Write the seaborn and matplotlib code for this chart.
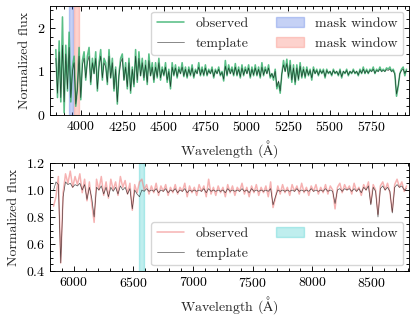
import numpy as np
import matplotlib
matplotlib.use("Agg")
import matplotlib.pyplot as plt
import seaborn as sns

# ---------------- data ----------------
# Blue arm: sampled every 10 A starting at 3850 A
blue_start, blue_step = 3850, 10
blue_observed = [
    1.50, 0.40, 1.70, 0.30, 2.25, 0.05, 1.60, 0.55, 1.90, 0.30,
    1.10, 1.35, 0.20, 0.65, 1.55, 0.35, 1.25, 1.45, 0.80, 1.35,
    1.55, 0.70, 1.30, 0.95, 1.45, 0.55, 1.20, 1.50, 0.80, 1.30,
    1.20, 0.70, 1.50, 0.85, 1.30, 0.55, 1.10, 0.25, 0.95, 1.30,
    1.40, 0.80, 1.20, 0.60, 1.30, 0.50, 1.10, 0.65, 1.50, 0.75,
    1.45, 0.90, 1.30, 0.80, 1.25, 0.70, 1.40, 0.90, 1.20, 0.75,
    1.20, 0.85, 1.30, 0.80, 1.10, 0.90, 1.20, 0.75, 1.05, 0.60,
    1.20, 0.90, 1.15, 0.85, 1.10, 0.95, 1.20, 0.88, 1.10, 0.85,
    1.10, 0.90, 1.15, 0.85, 1.05, 0.95, 1.20, 0.90, 1.10, 0.90,
    1.15, 0.90, 1.05, 0.95, 1.10, 0.85, 1.05, 0.95, 1.10, 0.90,
    1.00, 0.78, 1.25, 0.90, 1.15, 0.95, 1.10, 0.90, 1.18, 0.90,
    1.10, 0.85, 1.15, 0.90, 1.10, 0.95, 1.15, 0.85, 1.10, 0.90,
    1.15, 0.90, 1.10, 0.85, 1.20, 0.90, 1.10, 0.95, 1.15, 0.85,
    0.95, 0.80, 1.05, 0.60, 0.75, 0.50, 0.95, 1.25, 1.00, 1.28,
    0.85, 1.25, 0.75, 1.15, 0.70, 1.15, 0.80, 1.20, 0.85, 1.10,
    0.85, 1.10, 0.90, 1.05, 0.80, 1.10, 0.95, 1.05, 0.90, 1.05,
    0.95, 1.05, 0.85, 1.05, 0.95, 1.00, 0.90, 1.05, 0.95, 1.00,
    0.90, 1.05, 0.85, 1.00, 0.95, 1.05, 0.90, 1.00, 0.95, 1.05,
    0.95, 1.00, 0.90, 1.05, 0.95, 1.10, 0.95, 1.05, 0.95, 1.05,
    1.00, 1.10, 0.95, 1.05, 1.00, 1.10, 1.00, 1.05, 1.00, 1.08,
    1.05, 1.10, 1.00, 1.05, 0.95, 0.43, 0.65, 0.95, 1.05, 1.10,
    0.90, 1.05,
]
blue_template = [
    1.30, 0.50, 1.45, 0.40, 1.60, 0.30, 1.40, 0.60, 1.55, 0.40,
    1.00, 1.20, 0.25, 0.60, 1.35, 0.40, 1.15, 1.30, 0.85, 1.20,
    1.35, 0.75, 1.20, 0.95, 1.30, 0.60, 1.10, 1.35, 0.85, 1.20,
    1.10, 0.75, 1.35, 0.85, 1.20, 0.60, 1.05, 0.30, 0.90, 1.20,
    1.30, 0.80, 1.10, 0.65, 1.20, 0.55, 1.05, 0.70, 1.35, 0.80,
    1.30, 0.90, 1.20, 0.85, 1.15, 0.75, 1.25, 0.90, 1.10, 0.80,
    1.10, 0.88, 1.20, 0.85, 1.05, 0.92, 1.10, 0.80, 1.00, 0.65,
    1.10, 0.92, 1.08, 0.88, 1.05, 0.95, 1.10, 0.90, 1.05, 0.88,
    1.05, 0.92, 1.08, 0.88, 1.02, 0.95, 1.10, 0.92, 1.05, 0.92,
    1.08, 0.92, 1.02, 0.95, 1.05, 0.88, 1.02, 0.95, 1.05, 0.92,
    0.98, 0.82, 1.12, 0.92, 1.08, 0.95, 1.05, 0.92, 1.10, 0.92,
    1.05, 0.88, 1.08, 0.92, 1.05, 0.95, 1.08, 0.88, 1.05, 0.92,
    1.08, 0.92, 1.05, 0.88, 1.10, 0.92, 1.05, 0.95, 1.08, 0.88,
    0.95, 0.85, 1.00, 0.65, 0.78, 0.55, 0.95, 1.15, 1.00, 1.18,
    0.88, 1.15, 0.80, 1.08, 0.75, 1.08, 0.82, 1.12, 0.88, 1.05,
    0.88, 1.05, 0.92, 1.02, 0.85, 1.05, 0.95, 1.02, 0.92, 1.02,
    0.96, 1.02, 0.88, 1.02, 0.96, 1.00, 0.92, 1.02, 0.96, 1.00,
    0.92, 1.02, 0.88, 1.00, 0.96, 1.02, 0.92, 1.00, 0.96, 1.02,
    0.96, 1.00, 0.92, 1.02, 0.96, 1.05, 0.96, 1.02, 0.96, 1.02,
    1.00, 1.05, 0.96, 1.02, 1.00, 1.05, 1.00, 1.02, 1.00, 1.04,
    1.02, 1.05, 1.00, 1.02, 0.92, 0.48, 0.68, 0.95, 1.02, 1.05,
    0.95, 1.02,
]
# Red arm: sampled every 20 A starting at 5830 A
red_start, red_step = 5830, 20
red_observed = [
    0.88, 0.95, 1.10, 0.46, 0.98, 1.12, 1.05, 1.14, 1.02, 1.10,
    1.04, 1.12, 0.98, 1.08, 0.92, 1.06, 0.90, 0.76, 1.08, 1.00,
    1.10, 0.96, 1.06, 0.94, 1.08, 1.00, 1.06, 0.96, 1.10, 1.02,
    1.07, 0.97, 1.05, 0.85, 1.04, 0.98, 1.06, 1.08, 1.00, 1.04,
    0.97, 1.03, 0.98, 1.05, 0.96, 1.03, 0.99, 1.04, 0.96, 1.02,
    0.98, 1.04, 0.97, 1.02, 0.99, 1.05, 0.95, 1.03, 0.98, 1.02,
    0.96, 1.04, 0.99, 1.03, 0.95, 1.08, 0.97, 1.02, 0.96, 1.03,
    0.98, 1.02, 0.95, 1.04, 0.98, 1.03, 0.96, 1.02, 0.99, 1.05,
    0.97, 1.02, 0.95, 1.03, 0.98, 1.04, 0.96, 1.02, 0.98, 1.03,
    0.95, 1.06, 0.87, 0.94, 1.03, 0.97, 1.04, 0.98, 1.02, 0.96,
    1.04, 0.99, 1.03, 0.97, 1.05, 0.98, 1.02, 0.96, 1.03, 0.99,
    1.04, 0.97, 1.02, 0.98, 1.04, 0.97, 1.03, 1.00, 0.86, 1.02,
    1.05, 0.98, 1.04, 1.00, 1.03, 0.97, 1.05, 0.99, 1.02, 0.96,
    1.04, 1.00, 1.06, 0.90, 1.04, 1.00, 0.82, 1.03, 1.06, 1.00,
    1.05, 0.98, 0.84, 1.04, 1.08, 1.02, 1.06, 0.99, 1.03,
]
red_template = [
    1.00, 1.06, 1.04, 0.46, 0.95, 1.06, 1.04, 1.05, 1.02, 1.04,
    1.03, 1.05, 1.00, 1.04, 0.93, 1.02, 0.94, 0.80, 1.02, 1.00,
    1.03, 0.97, 1.02, 0.95, 1.02, 0.99, 1.02, 0.97, 1.03, 1.00,
    1.02, 0.97, 1.01, 0.86, 1.00, 0.97, 0.95, 1.00, 0.99, 1.01,
    0.99, 1.00, 0.99, 1.01, 0.98, 1.00, 0.99, 1.01, 0.98, 1.00,
    0.99, 1.01, 0.98, 1.00, 0.99, 1.01, 0.98, 1.00, 0.99, 1.00,
    0.99, 1.00, 0.99, 1.01, 0.98, 1.01, 0.99, 1.00, 0.99, 1.00,
    0.99, 1.00, 0.98, 1.01, 0.99, 1.00, 0.99, 1.00, 0.99, 1.01,
    0.99, 1.00, 0.98, 1.01, 0.99, 1.00, 0.99, 1.00, 0.99, 1.00,
    0.99, 1.01, 0.89, 0.95, 1.00, 0.99, 1.00, 0.99, 1.00, 0.99,
    1.00, 0.99, 1.01, 0.99, 1.00, 0.99, 1.00, 0.99, 1.01, 0.99,
    1.00, 0.99, 1.00, 0.99, 1.01, 0.99, 1.00, 0.99, 0.90, 1.00,
    1.01, 0.99, 1.01, 1.00, 1.01, 0.99, 1.01, 0.99, 1.01, 0.98,
    1.02, 1.00, 1.03, 0.89, 1.02, 0.99, 0.80, 1.01, 1.03, 1.00,
    1.02, 0.99, 0.83, 1.02, 1.04, 1.02, 1.03, 1.00, 1.01,
]
blue_masks = [(3928, 3955), (3962, 3992)]
red_mask = (6545, 6585)

# ---------------- style ----------------
sns.set_style("ticks")
plt.rcParams.update({
    "font.family": ["serif"],
    "font.serif": ["cmr10", "DejaVu Serif"],
    "mathtext.fontset": "cm",
    "axes.formatter.use_mathtext": True,
    "font.size": 10,
    "axes.labelsize": 10,
    "xtick.labelsize": 10,
    "ytick.labelsize": 10,
    "legend.fontsize": 10,
    "axes.linewidth": 0.65,
    "axes.edgecolor": "black",
    "xtick.direction": "in",
    "ytick.direction": "in",
    "xtick.top": True,
    "ytick.right": True,
    "xtick.minor.visible": True,
    "ytick.minor.visible": True,
    "xtick.major.size": 3.8,
    "ytick.major.size": 3.8,
    "xtick.minor.size": 1.9,
    "ytick.minor.size": 1.9,
    "xtick.major.width": 0.65,
    "ytick.major.width": 0.65,
    "xtick.minor.width": 0.65,
    "ytick.minor.width": 0.65,
    "xtick.color": "black",
    "ytick.color": "black",
    "axes.unicode_minus": False,
})

blue_wl = blue_start + blue_step * np.arange(len(blue_observed))
blue_wl_t = blue_start + blue_step * np.arange(len(blue_template))
red_wl = red_start + red_step * np.arange(len(red_observed))
red_wl_t = red_start + red_step * np.arange(len(red_template))

fig = plt.figure(figsize=(4.14, 3.18), dpi=100)
ax1 = fig.add_axes([0.1208, 0.6384, 0.8671, 0.3427])
ax2 = fig.add_axes([0.1208, 0.1478, 0.8671, 0.3396])

green = "#3cb371"
# ---- top panel ----
sns.lineplot(x=blue_wl, y=blue_observed, ax=ax1, color=green, lw=1.15, alpha=0.85,
             estimator=None, sort=False, label="observed", legend=False)
sns.lineplot(x=blue_wl_t, y=blue_template, ax=ax1, color="black", lw=0.5, alpha=0.65,
             estimator=None, sort=False, label="template", legend=False)
p1 = ax1.axvspan(*blue_masks[0], facecolor="royalblue", edgecolor="royalblue",
                 alpha=0.3, lw=1, label="mask window")
p2 = ax1.axvspan(*blue_masks[1], facecolor="salmon", edgecolor="salmon",
                 alpha=0.35, lw=1, label="mask window")
ax1.set_xlim(3815, 5975)
ax1.set_ylim(0, 2.5)
ax1.set_xticks([4000, 4250, 4500, 4750, 5000, 5250, 5500, 5750])
ax1.set_yticks([0, 1, 2])
ax1.set_xlabel(r"Wavelength ($\mathrm{\AA}$)", labelpad=3)
ax1.set_ylabel("Normalized flux")
h = ax1.get_lines()
ax1.legend(handles=[h[0], h[1], p1, p2], labels=["observed", "template", "mask window", "mask window"],
           loc="upper right", ncol=2, frameon=True, fancybox=True, edgecolor="0.8",
           framealpha=0.8, handlelength=2.0, borderaxespad=0.4)

# ---- bottom panel ----
sns.lineplot(x=red_wl, y=red_observed, ax=ax2, color="lightcoral", lw=1.1, alpha=0.6,
             estimator=None, sort=False, label="observed", legend=False)
sns.lineplot(x=red_wl_t, y=red_template, ax=ax2, color="black", lw=0.5, alpha=0.65,
             estimator=None, sort=False, label="template", legend=False)
p3 = ax2.axvspan(*red_mask, facecolor="c", edgecolor="c", alpha=0.25, lw=1,
                 label="mask window")
ax2.set_xlim(5800, 8810)
ax2.set_ylim(0.4, 1.2)
ax2.set_xticks([6000, 6500, 7000, 7500, 8000, 8500])
ax2.set_yticks([0.4, 0.6, 0.8, 1.0, 1.2])
ax2.set_xlabel(r"Wavelength ($\mathrm{\AA}$)", labelpad=3)
ax2.set_ylabel("Normalized flux")
h2 = ax2.get_lines()
ax2.legend(handles=[h2[0], h2[1], p3], labels=["observed", "template", "mask window"],
           loc="lower right", ncol=2, frameon=True, fancybox=True, edgecolor="0.8",
           framealpha=0.8, handlelength=2.0, borderaxespad=0.4)

fig.savefig("out.png", dpi=100)
